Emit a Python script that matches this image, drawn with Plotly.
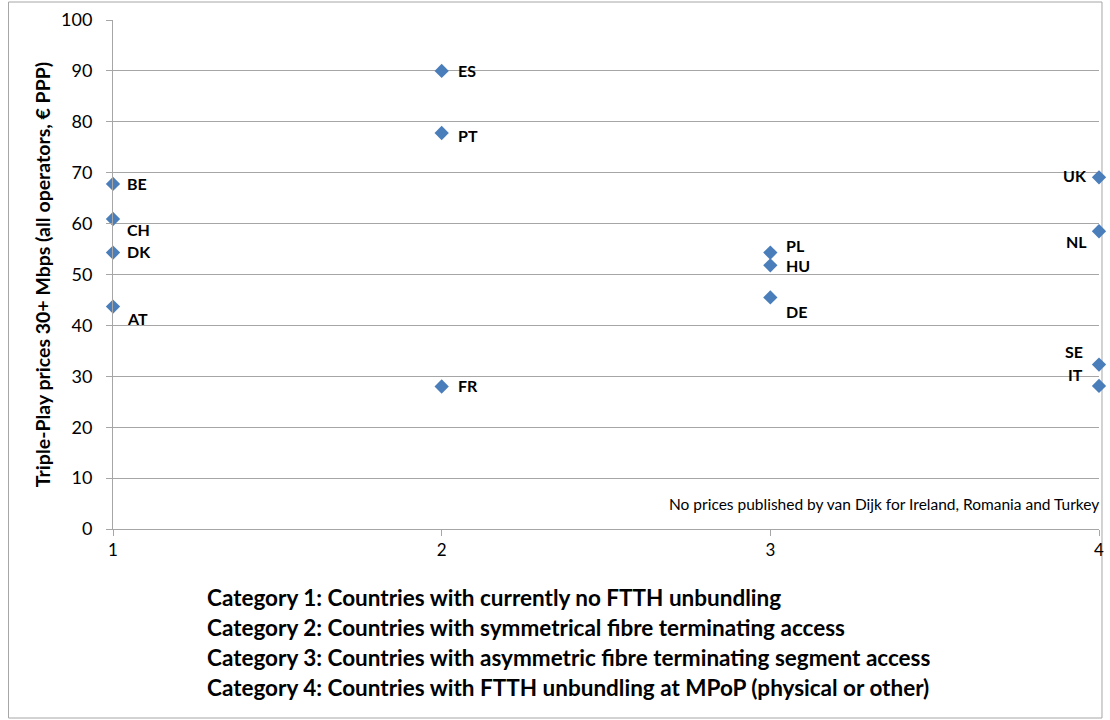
import plotly.graph_objects as go

countries = ["BE", "CH", "DK", "AT", "ES", "PT", "FR", "PL", "HU", "DE", "UK", "NL", "SE", "IT"]
category = [1, 1, 1, 1, 2, 2, 2, 3, 3, 3, 4, 4, 4, 4]
price = [67.8, 60.9, 54.3, 43.7, 90.0, 77.8, 28.0, 54.3, 51.8, 45.5, 69.1, 58.5, 32.3, 28.1]
# label offsets in pixels (dx, dy) and anchor
label_pos = {
    "BE": (12, 0, "left"), "CH": (12, -10, "left"), "DK": (12, 1, "left"), "AT": (12, -12, "left"),
    "ES": (14, 0, "left"), "PT": (14, -2, "left"), "FR": (14, 1, "left"),
    "PL": (14, 7, "left"), "HU": (14, 0, "left"), "DE": (14, -14, "left"),
    "UK": (-10, 2, "right"), "NL": (-10, -10, "right"), "SE": (-14, 13, "right"), "IT": (-14, 11, "right"),
}
y_ticks = list(range(0, 101, 10))
x_ticks = [1, 2, 3, 4]
category_notes = [
    "Category 1: Countries with currently no FTTH unbundling",
    "Category 2: Countries with symmetrical fibre terminating access",
    "Category 3: Countries with asymmetric fibre terminating segment access",
    "Category 4: Countries with FTTH unbundling at MPoP (physical or other)",
]
note = "No prices published by van Dijk for Ireland, Romania and Turkey"

FONT = "Lato, Open Sans, sans-serif"

fig = go.Figure()
fig.add_trace(go.Scatter(
    x=category, y=price, mode="markers",
    marker=dict(symbol="diamond", size=11, color="#4a7ebb"),
    cliponaxis=False, hoverinfo="skip", showlegend=False,
))

annotations = []
for c, x, y in zip(countries, category, price):
    dx, dy, anchor = label_pos[c]
    annotations.append(dict(
        x=x, y=y, xref="x", yref="y", text=f"<b>{c}</b>", showarrow=False,
        xanchor=anchor, yanchor="middle", xshift=dx, yshift=dy,
        font=dict(family=FONT, size=16, color="#000000"),
    ))

annotations.append(dict(
    x=1, y=0.05, xref="paper", yref="paper", text=note, showarrow=False,
    xanchor="right", yanchor="middle", xshift=2,
    font=dict(family=FONT, size=15.5, color="#000000"),
))

PL, PT, PW, PH = 113, 20, 991, 509
for i, line in enumerate(category_notes):
    annotations.append(dict(
        x=(205 - PL) / PW, y=(PT + PH - 597 - i * 30.3) / PH, xref="paper", yref="paper",
        text=f"<b>{line}</b>", showarrow=False, xanchor="left", yanchor="middle",
        font=dict(family=FONT, size=22.5, color="#000000"),
    ))

fig.update_layout(
    width=1110, height=720,
    margin=dict(l=113, r=6, t=20, b=191),
    paper_bgcolor="white", plot_bgcolor="white",
    annotations=annotations,
    shapes=[dict(
        type="rect", xref="paper", yref="paper",
        x0=(8 - PL) / PW, x1=(1107 - PL) / PW,
        y0=(PT + PH - 718) / PH, y1=(PT + PH - 2) / PH,
        line=dict(color="#a6a6a6", width=1), fillcolor="rgba(0,0,0,0)", layer="below",
    )],
    xaxis=dict(
        range=[1, 4], tickvals=x_ticks, showgrid=False, zeroline=False,
        showline=True, linecolor="#a6a6a6", linewidth=1,
        ticks="outside", ticklen=6, tickcolor="#a6a6a6",
        tickfont=dict(family=FONT, size=17, color="#000000"),
    ),
    yaxis=dict(
        range=[0, 100], tickvals=y_ticks, showgrid=True, gridcolor="#a6a6a6", gridwidth=1,
        zeroline=False, showline=True, linecolor="#a6a6a6", linewidth=1,
        ticks="outside", ticklen=6, tickcolor="#a6a6a6", ticklabelstandoff=10,
        tickfont=dict(family=FONT, size=18, color="#000000"),
        title=dict(text="<b>Triple-Play prices 30+ Mbps (all operators, € PPP)</b>",
                   font=dict(family=FONT, size=19.5, color="#000000"), standoff=5),
    ),
)

fig.write_html("out.html")
